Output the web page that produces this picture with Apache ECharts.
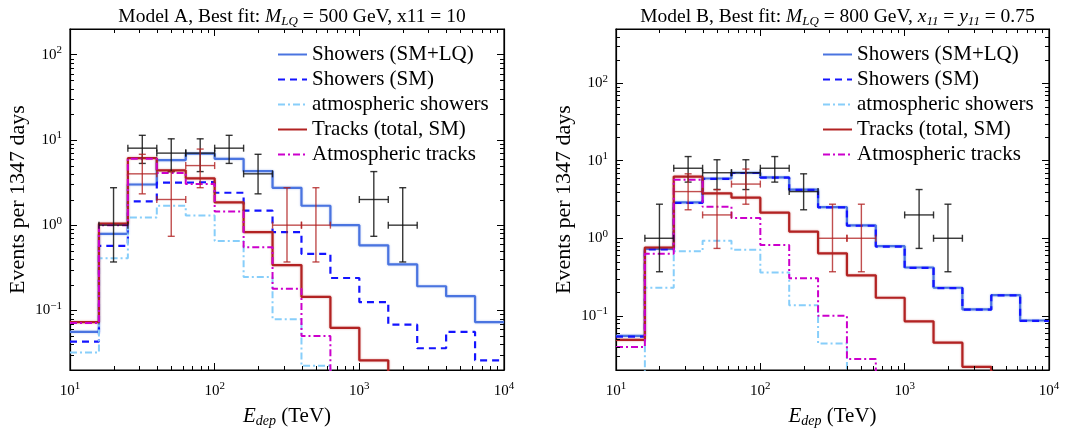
<!DOCTYPE html>
<html>
<head>
<meta charset="utf-8">
<script src="https://cdn.jsdelivr.net/npm/echarts@6/dist/echarts.min.js"></script>
<style>
html,body{margin:0;padding:0;background:#fff;}
#main{width:1081px;height:433px;}
</style>
</head>
<body>
<div id="main"></div>
<script>
// bin edges (TeV), 5 per decade
var binEdges = [10, 15.85, 25.12, 39.81, 63.1, 100, 158.5, 251.2, 398.1, 631, 1000, 1585, 2512, 3981, 6310, 10000];

// Model A
var a_showersLQ = [0.056, 0.79, 3.0, 5.8, 6.9, 6.0, 4.3, 2.74, 1.69, 1.0, 0.58, 0.346, 0.192, 0.147, 0.073];
var a_showersSM = [0.043, 0.57, 1.9, 3.15, 3.2, 2.4, 1.48, 0.83, 0.46, 0.24, 0.125, 0.068, 0.036, 0.056, 0.026];
var a_atmShowers = [0.032, 0.41, 1.23, 1.69, 1.3, 0.65, 0.246, 0.079, 0.0224, 0, 0, 0, 0, 0, 0];
var a_tracks = [0.073, 1.04, 6.1, 4.4, 3.54, 1.85, 0.83, 0.34, 0.144, 0.0625, 0.026, 0, 0, 0, 0];
var a_atmTracks = [0.071, 1.0, 6.0, 4.1, 3.05, 1.45, 0.55, 0.18, 0.05, 0, 0, 0, 0, 0, 0];

// Model B
var b_showersLQ = [0.055, 0.73, 2.9, 5.9, 7.0, 6.1, 4.25, 2.52, 1.47, 0.79, 0.42, 0.23, 0.121, 0.185, 0.087];
var b_showersSM = [0.054, 0.72, 2.85, 5.85, 6.95, 6.05, 4.2, 2.5, 1.45, 0.78, 0.415, 0.228, 0.12, 0.183, 0.086];
var b_atmShowers = [0, 0.23, 0.68, 0.93, 0.71, 0.363, 0.137, 0.044, 0, 0, 0, 0, 0, 0, 0];
var b_tracks = [0.049, 0.76, 6.25, 3.8, 3.34, 2.14, 1.22, 0.64, 0.333, 0.171, 0.085, 0.045, 0.022, 0, 0];
var b_atmTracks = [0.0395, 0.63, 5.7, 2.55, 1.82, 0.82, 0.305, 0.1, 0.0277, 0, 0, 0, 0, 0, 0];

// data points: showers (black)
var shX = [20, 31.6, 50.1, 79.4, 125.9, 199.5, 1259, 1995];
var shY = [1, 8, 7, 7, 8, 4, 2, 1];
var shLo = [0.37, 5.3, 4.25, 4.25, 5.3, 2.33, 0.74, 0.37];
var shHi = [2.75, 11.32, 10.3, 10.3, 11.32, 6.78, 4.25, 2.75];
var shXlo = [15.85, 25.12, 39.81, 63.1, 100, 158.5, 1000, 1585];
var shXhi = [25.12, 39.81, 63.1, 100, 158.5, 251.2, 1585, 2512];

// data points: tracks (red)
var trX = [31.6, 50.1, 79.4, 316.2, 501.2];
var trY = [4, 2, 5, 1, 1];
var trLo = [2.33, 0.74, 2.75, 0.37, 0.37];
var trHi = [6.78, 4.25, 7.81, 2.75, 2.75];
var trXlo = [25.12, 39.81, 63.1, 251.2, 398.1];
var trXhi = [39.81, 63.1, 100, 398.1, 631];

var seriesNames = ['Showers (SM+LQ)', 'Showers (SM)', 'atmospheric showers', 'Tracks (total, SM)', 'Atmospheric tracks'];
var FONT = 'Liberation Serif';
var FLOOR = 1e-4;

function stepData(vals){
	var d = [];
	for(var i = 0; i < vals.length; i++){
		d.push([binEdges[i], vals[i] > 0 ? vals[i] : FLOOR]);
	}
	d.push([binEdges[vals.length], vals[vals.length-1] > 0 ? vals[vals.length-1] : FLOOR]);
	return d;
}

var lineStyles = [
	{color:'#4a74e0', width:2.2, type:'solid', shadowColor:'rgba(74,116,224,0.45)', shadowBlur:2},
	{color:'#1414ff', width:2.2, type:[7,5]},
	{color:'#87cefa', width:2, type:[7,3,2,3]},
	{color:'#b22222', width:2.2, type:'solid', shadowColor:'rgba(178,34,34,0.45)', shadowBlur:2},
	{color:'#cc00cc', width:2, type:[7,3,2,3]}
];

var supMap = function(v){
	var e = Math.log(v)/Math.LN10;
	var r = Math.round(e);
	if(Math.abs(e - r) > 1e-6) return '';
	return '{b|10}{s|' + (r < 0 ? '\u2212' + (-r) : r) + '}';
};
var tickRich = {
	b:{fontFamily:FONT, fontSize:15, color:'#000', lineHeight:20},
	s:{fontFamily:FONT, fontSize:11, color:'#000', verticalAlign:'top'}
};

// minor ticks at 2..9 x 10^n
function minorData(xmin, xmax, ymin, ymax){
	var d = [];
	for(var p = -3; p < 5; p++){
		for(var k = 2; k < 10; k++){
			var v = k*Math.pow(10,p);
			if(v > xmin && v < xmax) d.push([v, 1, 0]);
			if(v > ymin && v < ymax) d.push([xmin*2, v, 1]);
		}
	}
	return d;
}

function minorRender(params, api){
	var rect = params.coordSys;
	var kind = api.value(2);
	var p = api.coord([api.value(0), api.value(1)]);
	var st = {stroke:'#000', lineWidth:1};
	if(kind === 0){
		var x = Math.round(p[0]) + 0.5;
		return {type:'group', children:[
			{type:'line', shape:{x1:x, y1:rect.y+rect.height, x2:x, y2:rect.y+rect.height-4}, style:st},
			{type:'line', shape:{x1:x, y1:rect.y, x2:x, y2:rect.y+4}, style:st}
		]};
	}
	var y = Math.round(p[1]) + 0.5;
	return {type:'group', children:[
		{type:'line', shape:{x1:rect.x, y1:y, x2:rect.x+4, y2:y}, style:st},
		{type:'line', shape:{x1:rect.x+rect.width, y1:y, x2:rect.x+rect.width-4, y2:y}, style:st}
	]};
}

function errData(x, y, lo, hi, xlo, xhi){
	var d = [];
	for(var i = 0; i < x.length; i++) d.push([x[i], y[i], lo[i], hi[i], xlo[i], xhi[i]]);
	return d;
}

function errRender(color){
	return function(params, api){
		var c = api.coord([api.value(0), api.value(1)]);
		var top = api.coord([api.value(0), api.value(3)]);
		var bot = api.coord([api.value(0), api.value(2)]);
		var l = api.coord([api.value(4), api.value(1)]);
		var r = api.coord([api.value(5), api.value(1)]);
		var st = {stroke:color, lineWidth:1.4};
		var cw = 3.5;
		return {type:'group', children:[
			{type:'line', shape:{x1:c[0], y1:top[1], x2:c[0], y2:bot[1]}, style:st},
			{type:'line', shape:{x1:c[0]-cw, y1:top[1], x2:c[0]+cw, y2:top[1]}, style:st},
			{type:'line', shape:{x1:c[0]-cw, y1:bot[1], x2:c[0]+cw, y2:bot[1]}, style:st},
			{type:'line', shape:{x1:l[0], y1:c[1], x2:r[0], y2:c[1]}, style:st},
			{type:'line', shape:{x1:l[0], y1:c[1]-cw, x2:l[0], y2:c[1]+cw}, style:st},
			{type:'line', shape:{x1:r[0], y1:c[1]-cw, x2:r[0], y2:c[1]+cw}, style:st}
		]};
	};
}

var panels = [
	{left:70, width:434, ymax:200, vals:[a_showersLQ, a_showersSM, a_atmShowers, a_tracks, a_atmTracks],
	 title:'Model A, Best fit: {i|M}{sub|LQ} = 500 GeV, x11 = 10'},
	{left:616, width:433, ymax:500, vals:[b_showersLQ, b_showersSM, b_atmShowers, b_tracks, b_atmTracks],
	 title:'Model B, Best fit: {i|M}{sub|LQ} = 800 GeV, {i|x}{sub|11} = {i|y}{sub|11} = 0.75'}
];

var option = {
	animation:false,
	backgroundColor:'#fff',
	title:[], grid:[], xAxis:[], yAxis:[], legend:[], series:[]
};

var titleRich = {
	i:{fontFamily:FONT, fontSize:19.5, fontStyle:'italic', color:'#000', lineHeight:22},
	sub:{fontFamily:FONT, fontSize:13, fontStyle:'italic', color:'#000', verticalAlign:'bottom'}
};

panels.forEach(function(p, g){
	option.title.push({
		text:p.title,
		left:p.left + p.width/2,
		top:1,
		textAlign:'center',
		textStyle:{fontFamily:FONT, fontSize:19.5, fontWeight:'normal', color:'#000', rich:titleRich}
	});
	option.grid.push({left:p.left, top:29, width:p.width, height:350, show:true, borderColor:'#000', borderWidth:1.2, backgroundColor:'transparent'});

	var xBase = {type:'log', logBase:10, gridIndex:g, min:10, max:10000,
		axisLine:{show:true, lineStyle:{color:'#000', width:1.2}},
		axisTick:{show:true, inside:true, length:7, lineStyle:{color:'#000', width:1}},
		splitLine:{show:false}};
	option.xAxis.push(Object.assign({}, xBase, {
		position:'bottom',
		axisLabel:{formatter:supMap, rich:tickRich, margin:11, showMinLabel:true, showMaxLabel:true},
		name:'{i|E}{sub|dep} (TeV)', nameLocation:'middle', nameGap:34,
		nameTextStyle:{fontFamily:FONT, fontSize:21, color:'#000', rich:{
			i:{fontFamily:FONT, fontSize:21, fontStyle:'italic', color:'#000', lineHeight:24},
			sub:{fontFamily:FONT, fontSize:14, fontStyle:'italic', color:'#000', verticalAlign:'bottom'}}}
	}));
	option.xAxis.push(Object.assign({}, xBase, {position:'top', axisLabel:{show:false}}));

	var yBase = {type:'log', logBase:10, gridIndex:g, min:0.02, max:p.ymax,
		axisLine:{show:true, lineStyle:{color:'#000', width:1.2}},
		axisTick:{show:true, inside:true, length:7, lineStyle:{color:'#000', width:1}},
		splitLine:{show:false}};
	option.yAxis.push(Object.assign({}, yBase, {
		position:'left',
		axisLabel:{formatter:supMap, rich:tickRich, margin:8},
		name:'Events per 1347 days', nameLocation:'middle', nameGap:41, nameRotate:90,
		nameTextStyle:{fontFamily:FONT, fontSize:22, color:'#000'}
	}));
	option.yAxis.push(Object.assign({}, yBase, {position:'right', axisLabel:{show:false}}));

	var xi = g*2, yi = g*2;
	p.vals.forEach(function(v, k){
		option.series.push({
			name:seriesNames[k], type:'line', step:'end', xAxisIndex:xi, yAxisIndex:yi,
			data:stepData(v), symbol:'none', clip:true,
			lineStyle:lineStyles[k], itemStyle:{color:lineStyles[k].color}, z:3+k
		});
	});
	option.series.push({
		type:'custom', xAxisIndex:xi, yAxisIndex:yi, renderItem:errRender('rgba(20,20,20,0.85)'),
		data:errData(shX, shY, shLo, shHi, shXlo, shXhi), z:20, silent:true
	});
	option.series.push({
		type:'custom', xAxisIndex:xi, yAxisIndex:yi, renderItem:errRender('rgba(178,34,34,0.8)'),
		data:errData(trX, trY, trLo, trHi, trXlo, trXhi), z:21, silent:true
	});
	option.series.push({
		type:'custom', xAxisIndex:xi, yAxisIndex:yi, renderItem:minorRender,
		dimensions:['x','y','kind'], encode:{x:0, y:1},
		data:minorData(10, 10000, 0.02, p.ymax), z:30, silent:true
	});

	option.legend.push({
		data:seriesNames, orient:'vertical', left:p.left + p.width - 232, top:39,
		itemWidth:29, itemHeight:14, itemGap:4,
		itemStyle:{opacity:0},
		lineStyle:{shadowBlur:0},
		textStyle:{fontFamily:FONT, fontSize:21, color:'#000', lineHeight:21}
	});
});

var chart = echarts.init(document.getElementById('main'), null, {renderer:'canvas'});
chart.setOption(option);
</script>
</body>
</html>
